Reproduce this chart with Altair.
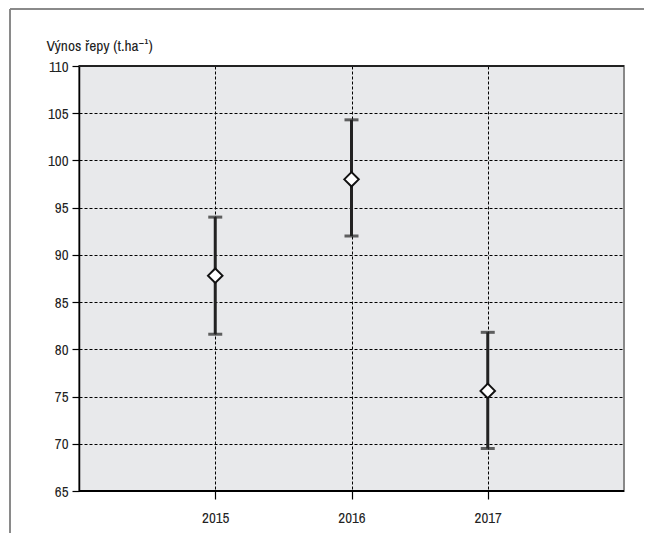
import altair as alt
import pandas as pd

years = ["2015", "2016", "2017"]
means = [87.8, 98.0, 75.6]
upper = [94.0, 104.3, 81.8]
lower = [81.6, 92.0, 69.5]
y_ticks = [65, 70, 75, 80, 85, 90, 95, 100, 105, 110]
y_title = "Výnos řepy (t.ha⁻¹)"

df = pd.DataFrame({"year": years, "mean": means, "hi": upper, "lo": lower})

FONT = "Archivo Narrow, Liberation Sans Narrow, Roboto, sans-serif"
W, H = 545, 425
PL, PT, PR, PB = 71, 58, 20, 42

x = alt.X("year:O", scale=alt.Scale(type="point", padding=1),
          axis=alt.Axis(title=None, labelAngle=0, grid=True, gridDash=[3, 2],
                        gridColor="#000", gridWidth=1, domain=False,
                        tickSize=8, tickColor="#000", tickWidth=1.2,
                        labelPadding=11, labelFontSize=15, labelColor="#222"))
y_scale = alt.Scale(domain=[65, 110], nice=False, zero=False)

base = alt.Chart(df)

bars = base.mark_rule(color="#222", strokeWidth=3).encode(
    x=x,
    y=alt.Y("lo:Q", scale=y_scale,
            axis=alt.Axis(values=y_ticks, title=y_title, titleAngle=0,
                          titleAlign="left", titleX=-33, titleY=-16,
                          titleBaseline="alphabetic",
                          titleFontSize=15.5, titleFontWeight="normal",
                          titleColor="#222", grid=True, gridDash=[3, 2],
                          gridColor="#000", gridWidth=1,
                          domainColor="#000", domainWidth=1.5,
                          tickSize=7, tickColor="#000", tickWidth=1.2,
                          labelPadding=4, labelFontSize=15, labelColor="#222")),
    y2="hi:Q",
)
cap_hi = base.mark_tick(color="#222", thickness=3, size=14, orient="horizontal").encode(
    x=x, y=alt.Y("hi:Q", scale=y_scale))
cap_lo = base.mark_tick(color="#222", thickness=3, size=14, orient="horizontal").encode(
    x=x, y=alt.Y("lo:Q", scale=y_scale))
pts = base.mark_point(shape="diamond", size=210, filled=True, fill="white",
                      stroke="#111", strokeWidth=2, opacity=1).encode(
    x=x, y=alt.Y("mean:Q", scale=y_scale))

bottom = alt.Chart(df).mark_rule(color="#000", strokeWidth=2).encode(
    x=alt.value(0), x2=alt.value(W), y=alt.value(H))
top = alt.Chart(df).mark_rule(color="#222", strokeWidth=1.5).encode(
    x=alt.value(0), x2=alt.value(W), y=alt.value(0))
frame_top = alt.Chart(df).mark_rule(color="#888", strokeWidth=1.5).encode(
    x=alt.value(-69), x2=alt.value(W + PR), y=alt.value(-57))
frame_left = alt.Chart(df).mark_rule(color="#888", strokeWidth=1.5).encode(
    x=alt.value(-69), y=alt.value(-57), y2=alt.value(H + PB))

chart = alt.layer(frame_top, frame_left, bars, cap_hi, cap_lo, pts, bottom, top).properties(
    width=W, height=H,
    autosize=alt.AutoSizeParams(type="none"),
    padding={"left": PL, "top": PT, "right": PR, "bottom": PB},
).configure(font=FONT, background="white").configure_view(
    fill="#e8e9eb", stroke="#888", strokeWidth=2
)

chart.save("out.html", embed_options={"renderer": "svg", "actions": False})
